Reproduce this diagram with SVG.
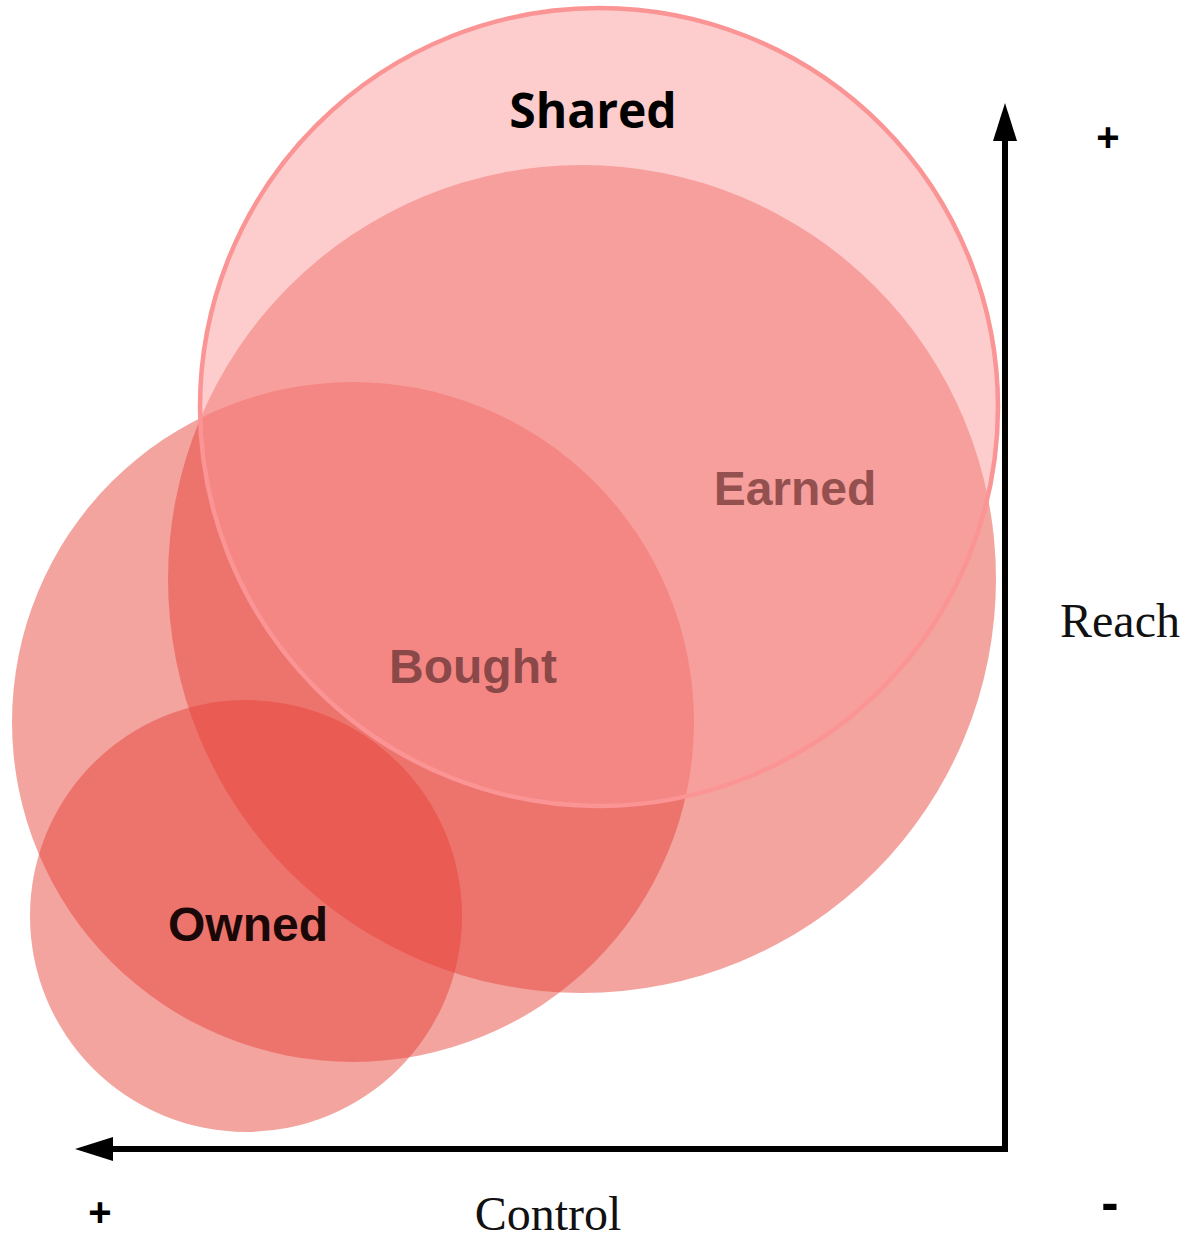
<svg xmlns="http://www.w3.org/2000/svg" width="1191" height="1240" viewBox="0 0 1191 1240">
<style>
.blob{fill:#e64037;fill-opacity:0.48;stroke:none}
.shared{fill:#fb9999;fill-opacity:0.5;stroke:#fb9494;stroke-width:4.5}
.lbl{font-family:"Liberation Sans",Arial,sans-serif;font-weight:bold;text-anchor:middle}
.ax{font-family:"Liberation Serif","Times New Roman",serif;text-anchor:middle;fill:#111}
.axis{stroke:#000;stroke-width:6;fill:none;marker-end:url(#arr)}
</style>
<defs>
<marker id="arr" markerUnits="userSpaceOnUse" viewBox="0 0 38 24" markerWidth="38" markerHeight="24" refX="0" refY="12" orient="auto">
<path d="M0,0 L38,12 L0,24 Z" fill="#000"/>
</marker>
</defs>
<rect width="1191" height="1240" fill="#fff"/>
<g id="bought"><ellipse class="blob" cx="353" cy="722" rx="341" ry="340"/></g>
<g id="earned"><circle class="blob" cx="582" cy="579" r="414"/></g>
<g id="owned"><circle class="blob" cx="246" cy="916" r="216"/></g>
<g id="shared"><circle class="shared" cx="599" cy="407" r="399"/></g>
<g id="labels">
<text class="lbl" x="593" y="128" style="font-family:'Open Sans',sans-serif" font-size="48" fill="#000">Shared</text>
<text class="lbl" x="795" y="505" font-size="48" fill="#944f4f">Earned</text>
<text class="lbl" x="473" y="683" font-size="48" fill="#8a4848">Bought</text>
<text class="lbl" x="248" y="941" font-size="48" fill="#1a0808">Owned</text>
</g>
<g id="connectors">
<line class="axis" x1="1005" y1="1149" x2="1005" y2="141"/>
<line class="axis" x1="1008" y1="1149" x2="113" y2="1149"/>
</g>
<g id="axis-labels">
<text class="ax" x="1120" y="637" font-size="48">Reach</text>
<text class="ax" x="548" y="1230" font-size="48">Control</text>
<text class="lbl" x="1108" y="151" font-size="40" fill="#000">+</text>
<text class="lbl" x="100" y="1226" font-size="40" fill="#000">+</text>
<text class="lbl" x="1110" y="1220" font-size="52" fill="#000">-</text>
</g>
</svg>
